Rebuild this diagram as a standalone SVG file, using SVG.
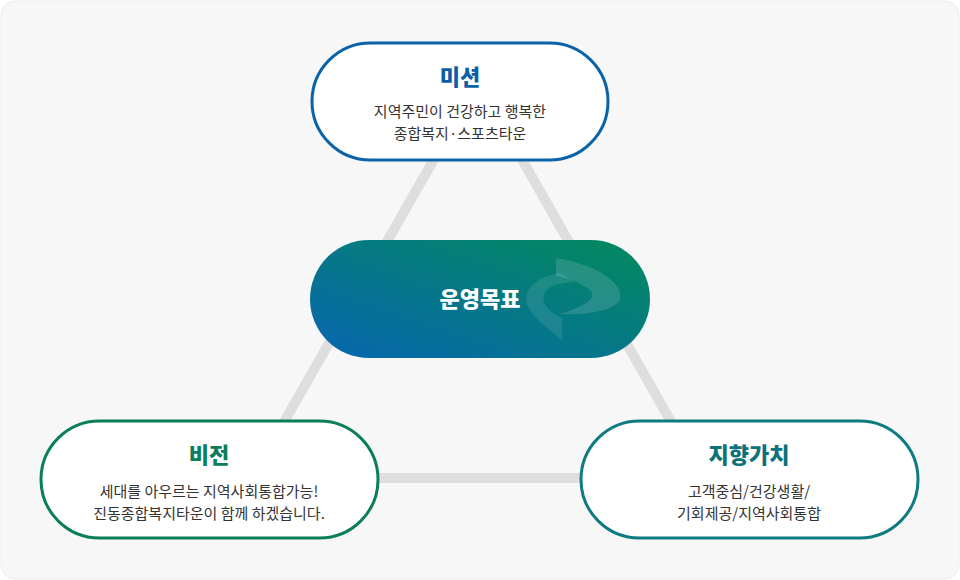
<svg xmlns="http://www.w3.org/2000/svg" width="960" height="580" viewBox="0 0 960 580">
<style>
.t{font-family:"Noto Sans CJK KR","Noto Sans",sans-serif;font-weight:900;font-size:22px;text-anchor:middle}
.d{font-family:"Noto Sans CJK KR","Noto Sans",sans-serif;font-size:15px;fill:#333;text-anchor:middle}
.n{fill:#fff;stroke-width:3}
</style>
<defs>
<linearGradient id="g" x1="0" y1="1" x2="1" y2="0">
<stop offset="0" stop-color="#0766b0"/><stop offset="1" stop-color="#038a5c"/>
</linearGradient>
</defs>
<rect x="1" y="1" width="958" height="578" rx="14" fill="#f7f7f7" stroke="#ececec"/>
<g id="connectors" stroke="#dedede" stroke-width="10" fill="none">
<path d="M478 82 L252 478 L703 478 Z" stroke-linejoin="round"/>
</g>
<g id="mission">
<rect class="n" x="312" y="43" width="296" height="117" rx="58.5" stroke="#0a63a8"/>
<text class="t" x="460" y="85" fill="#0a5fa6">미션</text>
<text class="d" x="460" y="117">지역주민이 건강하고 행복한</text>
<text class="d" x="460" y="139">종합복지·스포츠타운</text>
</g>
<g id="goal">
<rect x="310" y="240" width="340" height="118" rx="59" fill="url(#g)"/>
<path d="M556 258 C600 265 625 285 620 300 C612 312 585 315 560 314 C585 306 598 298 590 290 C580 282 568 278 556 276 Z" fill="#fff" opacity="0.13"/>
<path d="M560 273 C530 278 520 295 530 310 C538 322 550 330 562 340 L562 318 C548 312 540 302 545 292 C550 285 560 283 575 282 Z" fill="#fff" opacity="0.1"/>
<text class="t" x="480" y="307" fill="#fff" font-size="25">운영목표</text>
</g>
<g id="vision">
<rect class="n" x="41" y="421" width="337" height="117" rx="58.5" stroke="#0a7d5a"/>
<text class="t" x="209" y="463" fill="#0a7d5a">비전</text>
<text class="d" x="209" y="497">세대를 아우르는 지역사회통합가능!</text>
<text class="d" x="209" y="519">진동종합복지타운이 함께 하겠습니다.</text>
</g>
<g id="values">
<rect class="n" x="581" y="421" width="337" height="117" rx="58.5" stroke="#0e7a82"/>
<text class="t" x="749" y="463" fill="#0e727a">지향가치</text>
<text class="d" x="749" y="497">고객중심/건강생활/</text>
<text class="d" x="749" y="519">기회제공/지역사회통합</text>
</g>
</svg>
